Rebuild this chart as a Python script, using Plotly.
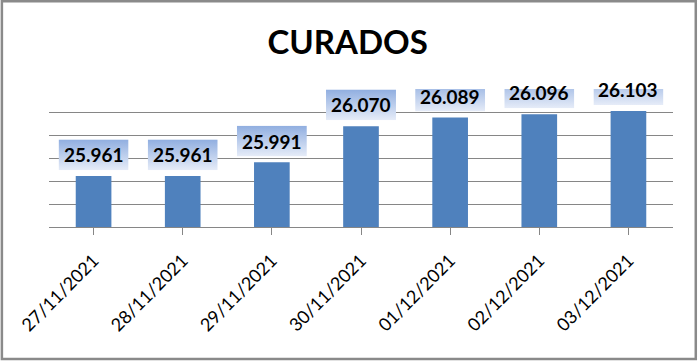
import plotly.graph_objects as go

categories = ["27/11/2021", "28/11/2021", "29/11/2021", "30/11/2021",
              "01/12/2021", "02/12/2021", "03/12/2021"]
values = [25961, 25961, 25991, 26070, 26089, 26096, 26103]
value_labels = ["25.961", "25.961", "25.991", "26.070", "26.089", "26.096", "26.103"]
title_text = "CURADOS"

Y_MIN, Y_MAX = 25850, 26150
FONT = "Lato, 'Open Sans', sans-serif"

grad_svg = (
    "data:image/svg+xml;utf8,"
    "<svg xmlns='http://www.w3.org/2000/svg' width='70' height='31' preserveAspectRatio='none'>"
    "<defs><linearGradient id='g' x1='0' y1='0' x2='0' y2='1'>"
    "<stop offset='0' stop-color='%2390AEE0'/>"
    "<stop offset='1' stop-color='%23E6ECF8'/>"
    "</linearGradient></defs>"
    "<rect width='70' height='31' fill='url(%23g)'/></svg>"
)

fig = go.Figure()
fig.add_trace(go.Bar(
    x=list(range(len(categories))), y=values,
    marker=dict(color="#4F81BD", line=dict(width=0)),
    width=0.4, hoverinfo="skip",
))

box_w = 0.785
gap_units = 13
box_h_units = 67
images = []
annotations = []
for i, (v, lab) in enumerate(zip(values, value_labels)):
    images.append(dict(
        source=grad_svg, xref="x", yref="y",
        x=i - box_w / 2, y=v + gap_units + box_h_units,
        sizex=box_w, sizey=box_h_units,
        xanchor="left", yanchor="top", sizing="stretch", layer="above",
    ))
    annotations.append(dict(
        x=i, y=v + gap_units + box_h_units / 2, xref="x", yref="y",
        text=f"<b>{lab}</b>", showarrow=False,
        font=dict(family=FONT, size=19, color="#000000"),
        xanchor="center", yanchor="middle",
    ))

fig.update_layout(
    width=698, height=361,
    margin=dict(l=48.7, r=24.7, t=89, b=133.7, autoexpand=False),
    paper_bgcolor="white", plot_bgcolor="white",
    showlegend=False,
    bargap=0.6,
    title=dict(text=f"<b>{title_text}</b>", x=0.498, xanchor="center",
               y=0.883, yanchor="middle", xref="container",
               font=dict(family=FONT, size=33, color="#000000")),
    images=images,
    annotations=annotations,
    xaxis=dict(
        tickmode="array", tickvals=list(range(len(categories))), ticktext=categories,
        range=[-0.5, len(categories) - 0.5],
        tickangle=-45, tickfont=dict(family=FONT, size=18, color="#000000"),
        ticklabelstandoff=8,
        showline=True, linecolor="#868686", linewidth=1,
        ticks="outside", ticklen=7, tickcolor="#868686",
        showgrid=False, zeroline=False,
    ),
    yaxis=dict(
        range=[Y_MIN, Y_MAX + 1], dtick=50, tick0=Y_MIN,
        showticklabels=False, showgrid=True, gridcolor="#868686", gridwidth=1,
        showline=False, zeroline=False, ticks="",
    ),
    shapes=[dict(type="rect", xref="paper", yref="paper",
                 x0=-0.0755, x1=1.0365, y0=-0.957, y1=1.635,
                 line=dict(color="#8A8A8A", width=2.5), fillcolor="rgba(0,0,0,0)")],
)

fig.write_html(
    "out.html",
    config={"displayModeBar": False, "staticPlot": True},
    post_script="document.body.style.margin='0px';document.body.style.overflow='hidden';",
)
